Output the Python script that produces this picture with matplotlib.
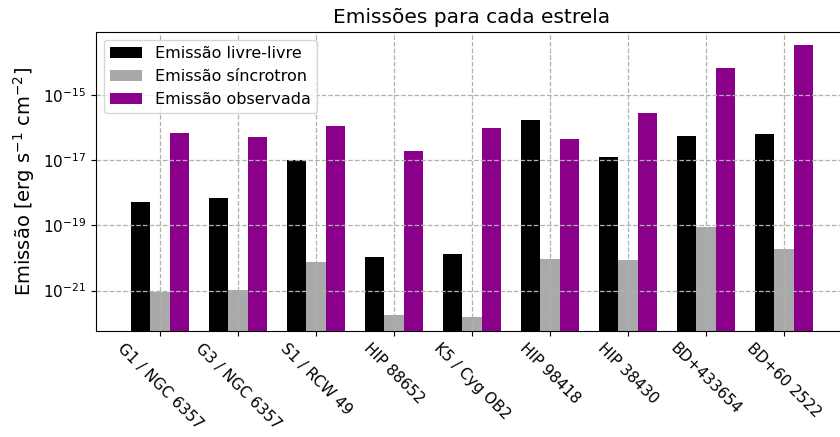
import numpy as np
import matplotlib
matplotlib.use("Agg")
import matplotlib.pyplot as plt

# estrelas e emissões estimadas (erg s^-1 cm^-2)
estrelas = ["G1 / NGC 6357", "G3 / NGC 6357", "S1 / RCW 49", "HIP 88652", "K5 / Cyg OB2",
            "HIP 98418", "HIP 38430", "BD+433654", "BD+60 2522"]
livre_livre = [5.2e-19, 6.9e-19, 9.8e-18, 1.05e-20, 1.3e-20,
               1.66e-16, 1.23e-17, 5.5e-17, 6.3e-17]
sincrotron = [9.1e-22, 1.02e-21, 7.6e-21, 1.8e-22, 1.6e-22,
              9.1e-21, 8.5e-21, 8.7e-20, 1.95e-20]
observada = [6.8e-17, 5.1e-17, 1.1e-16, 1.95e-17, 9.8e-17,
             4.5e-17, 2.7e-16, 6.8e-15, 3.5e-14]

x = np.arange(len(estrelas))
w = 0.25

fig = plt.figure(figsize=(8.4, 4.37), dpi=100)
ax = fig.add_axes([96/840, (437-330.7)/437, (848-96)/840, (330.7-31.7)/437])

ax.bar(x - w, livre_livre, w, color="black", label="Emissão livre-livre")
ax.bar(x, sincrotron, w, color="darkgray", label="Emissão síncrotron")
ax.bar(x + w, observada, w, color="darkmagenta", label="Emissão observada")

ax.set_yscale("log")
ax.set_ylim(10**-22.23, 10**-13.06)
ax.set_xlim(-0.82, 8.82)
ax.set_yticks([1e-21, 1e-19, 1e-17, 1e-15])
ax.yaxis.set_minor_locator(matplotlib.ticker.NullLocator())
ax.set_xticks(x)
ax.set_xticklabels(estrelas, rotation=-45, fontsize=11)
ax.tick_params(axis="y", labelsize=11)
# grade tracejada por cima das barras
ax.grid(True, linestyle="--", color="#b0b0b0", linewidth=0.9)

ax.set_title("Emissões para cada estrela", fontsize=14.5)
ax.set_ylabel("Emissão [erg s$^{-1}$ cm$^{-2}$]", fontsize=14)
ax.legend(loc="upper left", fontsize=11.5)

fig.savefig("out.png", dpi=100)
